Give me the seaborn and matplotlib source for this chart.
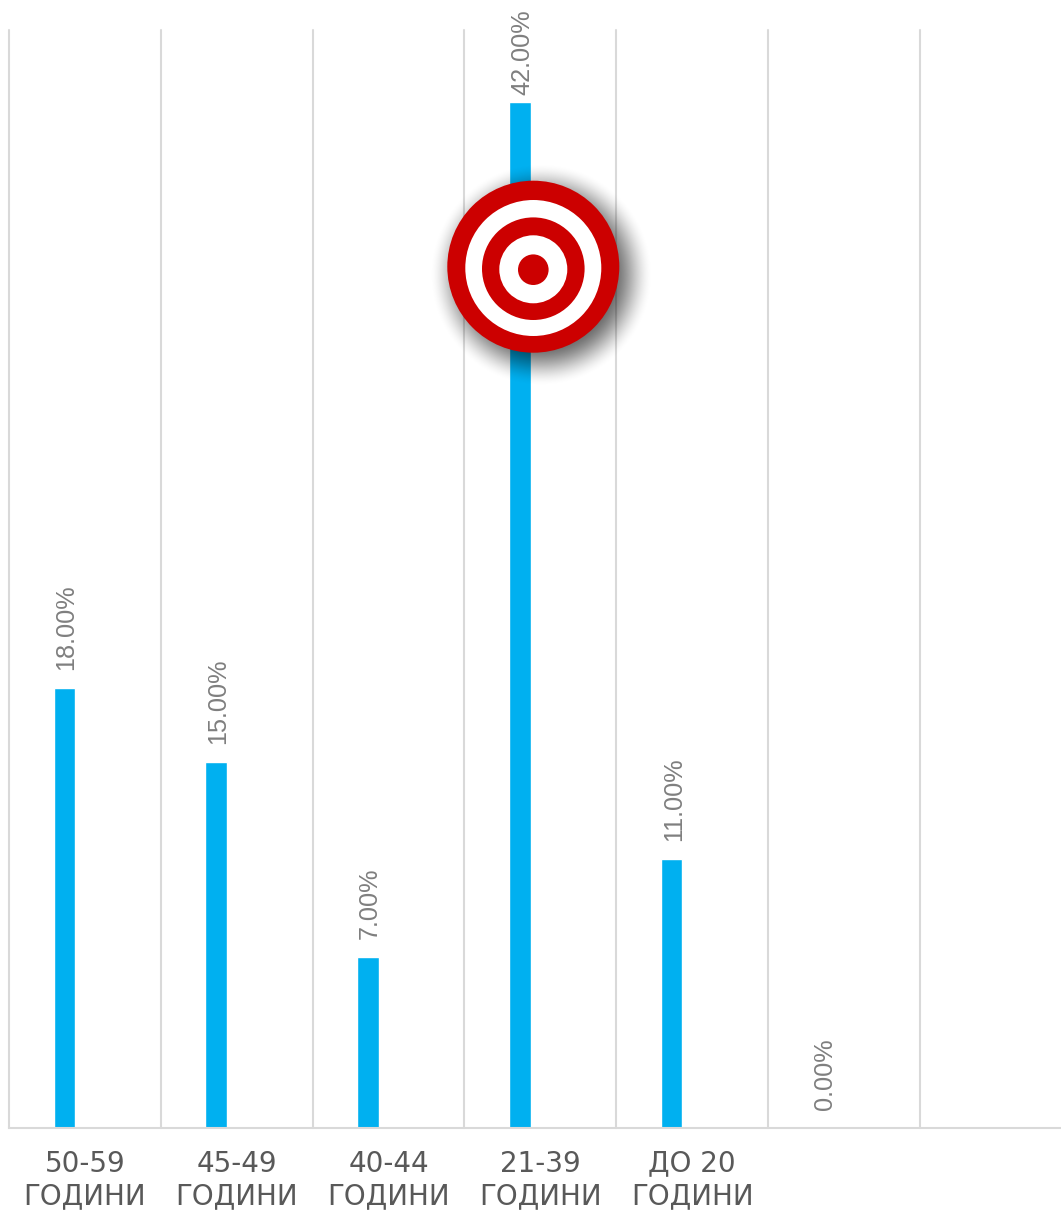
import numpy as np
import pandas as pd
import seaborn as sns
import matplotlib
matplotlib.use("Agg")
import matplotlib.pyplot as plt
from matplotlib.patches import Circle

age_groups = ["50-59\nГОДИНИ", "45-49\nГОДИНИ", "40-44\nГОДИНИ", "21-39\nГОДИНИ", "ДО 20\nГОДИНИ", " ", "  "]
share_pct = [18.0, 15.0, 7.0, 42.0, 11.0, 0.0, np.nan]
empty_series = [np.nan] * 7

W, H = 1061, 1213
AX_L, AX_R, AX_T, AX_B = 9, 1061, 30, 1128
CAT_W = 151.8
BLUE = "#00b0f0"
GRID = "#d9d9d9"
RED = "#cc0000"

sns.set_theme(style="white")
plt.rcParams["font.family"] = ["Liberation Sans", "DejaVu Sans"]

fig = plt.figure(figsize=(W / 100, H / 100), dpi=100, facecolor="white")
ax = fig.add_axes([AX_L / W, 1 - AX_B / H, (AX_R - AX_L) / W, (AX_B - AX_T) / H])

df = pd.DataFrame({
    "age": age_groups * 2,
    "value": share_pct + empty_series,
    "series": ["a"] * 7 + ["b"] * 7,
})
sns.barplot(data=df, x="age", y="value", hue="series", hue_order=["a", "b"],
            order=age_groups, palette=[BLUE, BLUE], width=0.54, gap=0.47,
            saturation=1, legend=False, ax=ax, errorbar=None)

ax.set_xlim(-0.5, -0.5 + (AX_R - AX_L) / CAT_W)
ax.set_ylim(0, 44.96)
ax.set_xlabel("")
ax.set_ylabel("")
ax.set_yticks([])
ax.set_xticks(range(7))
ax.set_xticklabels(age_groups, family="DejaVu Sans", fontsize=20,
                   color="#595959", linespacing=1.22)
ax.tick_params(axis="x", length=0, pad=15.5)

for s in ("top", "right", "left"):
    ax.spines[s].set_visible(False)
ax.spines["bottom"].set_color(GRID)
ax.spines["bottom"].set_linewidth(1.5)

for b in np.arange(-0.5, 6.5, 1.0):
    ax.axvline(b, color=GRID, lw=1.5, zorder=0, clip_on=False)

# value labels
for cat, val, patch in zip(age_groups, share_pct, ax.containers[0]):
    if np.isnan(val):
        continue
    pad = 5.5 if val == np.nanmax(share_pct) else 13
    ax.annotate(f"{val:.2f}%", (patch.get_x() + patch.get_width() / 2, val),
                xytext=(1.5, pad), textcoords="offset points", rotation=90,
                ha="center", va="bottom", fontsize=18.2, color="#7f7f7f",
                annotation_clip=False)

# target overlay in pixel coordinates
ov = fig.add_axes([0, 0, 1, 1], facecolor="none")
ov.set_xlim(0, W)
ov.set_ylim(H, 0)
ov.axis("off")
cx, cy = 533.3, 266.7

yy, xx = np.mgrid[140:410, 410:680]
d = np.hypot(xx + 0.5 - (cx + 8), yy + 0.5 - (cy + 8))
t = np.clip((112 - d) / 44, 0, 1)
shadow = np.zeros(d.shape + (4,))
shadow[..., 3] = 0.6 * t * t * (3 - 2 * t)
ov.imshow(shadow, extent=(410, 680, 410, 140), interpolation="bilinear", zorder=1, aspect="auto")
ov.set_xlim(0, W)
ov.set_ylim(H, 0)

rings = [(86, RED, 0.0), (68, "white", 1.3), (51.3, RED, 2.0), (34, "white", 2.6), (15.3, RED, 3.0)]
for r, c, dy in rings:
    ov.add_patch(Circle((cx, cy + dy), r, facecolor=c, edgecolor="none", zorder=2))

fig.savefig("out.png", dpi=100)
